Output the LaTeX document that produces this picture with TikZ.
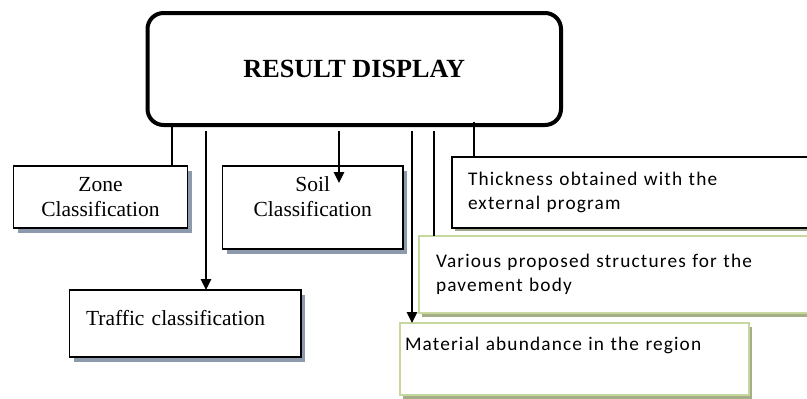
\documentclass[tikz,border=0pt]{standalone}
\usepackage{fontspec}
\setmainfont{Liberation Serif}
\newfontfamily\calibri[LetterSpace=6]{Carlito}
\usetikzlibrary{arrows.meta,shadows}
\definecolor{shadowblue}{RGB}{141,153,172}
\definecolor{lightolive}{RGB}{198,216,158}
\definecolor{darkolive}{RGB}{164,175,136}
\definecolor{grayolive}{RGB}{158,166,140}
\tikzset{arrow/.style={->, >={Triangle[length=11pt,width=10.5pt]}}}
\tikzset{
  link/.style={line width=1.3pt},
  boxbase/.style={draw, fill=white, line width=1.3pt, anchor=north west,
    inner ysep=0pt, outer sep=0pt},
  serifbox/.style={boxbase, font=\fontsize{21.5}{25}\selectfont,
    drop shadow={shadow xshift=4pt, shadow yshift=-4.5pt, fill=shadowblue, opacity=1}},
  calbox/.style={boxbase, align=left, font=\calibri\fontsize{19.3}{24}\selectfont},
  greenbox/.style={calbox, draw=lightolive, line width=2pt,
    drop shadow={shadow xshift=3pt, shadow yshift=-4pt, fill=darkolive, opacity=1}}
}

\begin{document}
\begin{tikzpicture}[x=1pt, y=-1pt]
  \useasboundingbox (0,0) rectangle (807,399);
  \node[draw, line width=4pt, rounded corners=16pt, anchor=north west, inner sep=0pt,
    outer sep=0pt, minimum width=413.5pt, minimum height=112pt,
    font=\bfseries\fontsize{26.2}{30}\selectfont] (display) at (147.5,13) {RESULT DISPLAY};

  \node[serifbox, inner xsep=0pt, text width=174pt, align=center, minimum height=62pt]
    (zone) at (13.5,166) {Zone\\Classification};
  \node[serifbox, inner xsep=0pt, text width=180.5pt, align=center, minimum height=83pt,
    text depth=46pt] (soil) at (222.5,166) {Soil\\Classification};
  \node[serifbox, inner xsep=16.5pt, text width=198.5pt, align=left, minimum height=67pt,
    text depth=12pt] (traffic) at (69.5,290) {Traffic classification};

  \node[calbox, inner xsep=16pt, text width=331pt, minimum height=71pt,
    drop shadow={shadow xshift=3pt, shadow yshift=-3pt, fill=grayolive, opacity=1}]
    (thickness) at (452,157) {Thickness obtained with the\\external program};
  \node[greenbox, inner xsep=17pt, text width=362pt, minimum height=77pt]
    (various) at (419,236) {Various proposed structures for the\\pavement body};
  \node[greenbox, inner xsep=5pt, text width=339pt, minimum height=72pt, text depth=31pt]
    (material) at (400,323) {Material abundance in the region};

  % connectors
  \coordinate (z) at (172,0);
  \coordinate (t) at (206,131);
  \coordinate (s) at (339,131);
  \coordinate (s2) at (339,183);
  \coordinate (m) at (412,131);
  \coordinate (v) at (434,131);
  \coordinate (k) at (474,122);
  \draw[link] (display.south -| z) -- (zone.north -| z);
  \draw[link, arrow] (t) -- (traffic.north -| t);
  \draw[link, arrow] (s) -- (s2);
  \draw[link, arrow] (m) -- (material.north -| m);
  \draw[link] (v) -- (various.north -| v);
  \draw[link] (k) -- (thickness.north -| k);
\end{tikzpicture}
\end{document}
